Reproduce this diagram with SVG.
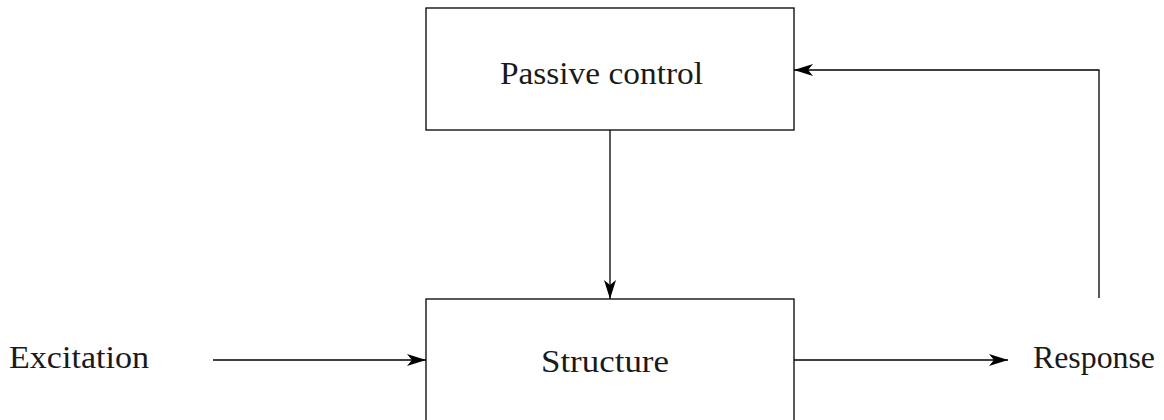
<svg xmlns="http://www.w3.org/2000/svg" width="1164" height="420" viewBox="0 0 1164 420">
  <style>
    .box { fill: #fff; stroke: #000; stroke-width: 1.3; }
    .wire { fill: none; stroke: #000; stroke-width: 1.3; }
    .lbl { font-family: "Liberation Serif", "Times New Roman", serif; font-size: 32px; fill: #1a1a1a; }
  </style>
  <defs>
    <marker id="stealth" markerUnits="userSpaceOnUse" markerWidth="22" markerHeight="14" viewBox="-20 -7 21 14" refX="0" refY="0" orient="auto">
      <path d="M0,0 L-19,-6 L-14,0 L-19,6 Z" fill="#000"/>
    </marker>
  </defs>
  <rect width="1164" height="420" fill="#fff"/>

  <g id="passive-control">
    <rect class="box" x="426" y="8" width="368" height="122"/>
    <text class="lbl" x="500" y="84" textLength="203" lengthAdjust="spacingAndGlyphs">Passive control</text>
  </g>

  <g id="structure">
    <rect class="box" x="426" y="299" width="368" height="140"/>
    <text class="lbl" x="541" y="372" textLength="128" lengthAdjust="spacingAndGlyphs">Structure</text>
  </g>

  <g id="excitation">
    <text class="lbl" x="9" y="368" textLength="140" lengthAdjust="spacingAndGlyphs">Excitation</text>
  </g>

  <g id="response">
    <text class="lbl" x="1033" y="368" textLength="122" lengthAdjust="spacingAndGlyphs">Response</text>
  </g>

  <g id="connectors">
    <path class="wire" d="M610,130 V299" marker-end="url(#stealth)"/>
    <path class="wire" d="M213,360 H426" marker-end="url(#stealth)"/>
    <path class="wire" d="M794,360 H1008" marker-end="url(#stealth)"/>
    <path class="wire" d="M1099,298 V70 H794" marker-end="url(#stealth)"/>
  </g>
</svg>
